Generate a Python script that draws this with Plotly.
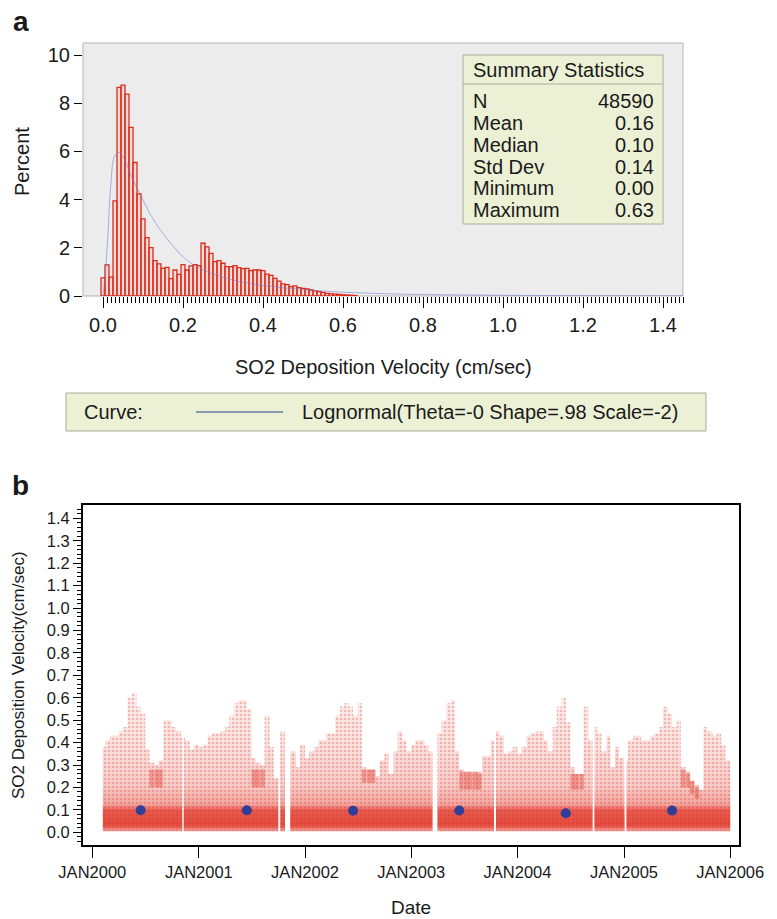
import plotly.graph_objects as go
import pandas as pd

W, H = 777, 919
FONT = "Liberation Sans, Arial, sans-serif"
RED = "#dd2a1b"


def px(x):
    return x / W


def py(y):
    return 1 - y / H


# ---------------- Panel a data ----------------
bin_centers = [i / 100 for i in range(64)]
percent = [0.75, 1.29, 0.78, 3.95, 8.66, 8.75, 8.38, 7.00, 5.54, 4.24,
           3.20, 2.42, 2.01, 1.47, 1.33, 1.15, 1.19, 0.72, 1.08, 0.90,
           1.30, 1.08, 1.25, 1.30, 1.26, 2.19, 2.04, 1.77, 1.43, 1.47,
           1.36, 1.22, 1.22, 1.26, 1.18, 1.14, 1.15, 1.05, 1.08, 1.08,
           1.05, 0.91, 0.86, 0.73, 0.62, 0.50, 0.47, 0.39, 0.42, 0.35,
           0.32, 0.29, 0.25, 0.21, 0.18, 0.15, 0.11, 0.10, 0.08, 0.07,
           0.05, 0.04, 0.03, 0.02]
curve_x = [0.0, 0.007, 0.0125, 0.019, 0.029, 0.040, 0.054, 0.071, 0.092,
           0.117, 0.150, 0.200, 0.242, 0.325, 0.408, 0.492, 0.575, 0.742,
           1.0, 1.2, 1.45]
curve_y = [0.0, 1.2, 2.6, 4.5, 5.8, 5.96, 5.65, 4.96, 4.27, 3.43, 2.6, 1.63,
           1.15, 0.66, 0.42, 0.28, 0.18, 0.08, 0.03, 0.015, 0.01]
xa_tickvals = [0.0, 0.2, 0.4, 0.6, 0.8, 1.0, 1.2, 1.4]
xa_ticktext = ["0.0", "0.2", "0.4", "0.6", "0.8", "1.0", "1.2", "1.4"]
xa_minor = [i / 100 for i in range(0, 146)]
ya_tickvals = [0, 2, 4, 6, 8, 10]
stat_labels = ["N", "Mean", "Median", "Std Dev", "Minimum", "Maximum"]
stat_values = ["48590", "0.16", "0.10", "0.14", "0.00", "0.63"]
curve_label = "Lognormal(Theta=-0 Shape=.98 Scale=-2)"

# ---------------- Panel b data ----------------
# upper envelope of the point cloud, one value per half month (Jan 2000 .. Dec 2005)
half_month_top = [
    None, None, 0.38, 0.41, 0.43, 0.43, 0.45, 0.47, 0.60, 0.62, 0.56, 0.53,
    0.37, 0.31, 0.30, 0.32, 0.50, 0.50, 0.47, 0.45, 0.42, 0.41, 0.37, 0.39,
    0.38, 0.39, 0.43, 0.44, 0.44, 0.45, 0.47, 0.52, 0.575, 0.59, 0.59, 0.55,
    0.33, 0.31, 0.30, 0.52, 0.38, 0.24, 0.45, 0.45, 0.36, 0.36, 0.29, 0.39,
    0.33, 0.36, 0.38, 0.41, 0.41, 0.44, 0.44, 0.52, 0.56, 0.575, 0.56, 0.52,
    0.575, 0.29, 0.28, 0.28, 0.25, 0.32, 0.35, 0.26, 0.36, 0.45, 0.41, 0.36,
    0.39, 0.41, 0.41, 0.39, 0.36, None, 0.44, 0.50, 0.575, 0.59, 0.36, 0.28,
    0.27, 0.27, 0.27, 0.26, 0.34, 0.34, 0.41, 0.45, 0.43, 0.35, 0.36, 0.38,
    0.35, 0.38, 0.43, 0.44, 0.45, 0.45, 0.41, 0.36, 0.47, 0.56, 0.60, 0.49,
    0.29, 0.26, 0.26, 0.56, 0.41, 0.47, 0.44, 0.36, 0.43, 0.29, 0.38, 0.33,
    0.32, 0.41, 0.43, 0.43, 0.41, 0.41, 0.43, 0.44, 0.47, 0.56, 0.53, 0.47,
    0.50, 0.29, 0.26, 0.23, 0.20, 0.19, 0.47, 0.45, 0.43, 0.44, 0.39, 0.32,
]
missing_periods = [
    ("2000-01-01", "2000-02-06"),
    ("2000-11-05", "2000-11-10"),
    ("2001-10-01", "2001-10-08"),
    ("2001-10-24", "2001-11-11"),
    ("2003-03-15", "2003-03-30"),
    ("2003-10-12", "2003-10-19"),
    ("2004-09-15", "2004-09-21"),
    ("2005-01-03", "2005-01-09"),
]
cluster_starts = ["2000-07-15", "2000-08-01", "2000-08-15",
                  "2001-07-01", "2001-07-15", "2001-08-01",
                  "2002-07-15", "2002-08-01", "2002-08-15",
                  "2003-06-15", "2003-07-01", "2003-07-15", "2003-08-01", "2003-08-15",
                  "2004-07-01", "2004-07-15", "2004-08-01",
                  "2005-07-15", "2005-08-01", "2005-08-15", "2005-09-01"]
cluster_low = [0.20, 0.20, 0.20, 0.20, 0.20, 0.20, 0.22, 0.22, 0.22, 0.19, 0.19,
               0.19, 0.19, 0.19, 0.19, 0.19, 0.19, 0.20, 0.20, 0.17, 0.15]
cluster_high = [0.28, 0.28, 0.28, 0.28, 0.28, 0.28, 0.28, 0.28, 0.28, 0.27, 0.27,
                0.27, 0.27, 0.27, 0.26, 0.26, 0.26, 0.28, 0.27, 0.23, 0.21]
annual_dates = ["2000-06-15", "2001-06-15", "2002-06-15", "2003-06-15",
                "2004-06-15", "2005-06-15"]
annual_values = [0.098, 0.098, 0.096, 0.097, 0.085, 0.097]
year_tickvals = ["2000-01-01", "2001-01-01", "2002-01-01", "2003-01-01",
                 "2004-01-01", "2005-01-01", "2006-01-01"]
year_ticktext = ["JAN2000", "JAN2001", "JAN2002", "JAN2003", "JAN2004",
                 "JAN2005", "JAN2006"]
yb_tickvals = [i / 10 for i in range(15)]
yb_ticktext = ["%.1f" % v for v in yb_tickvals]

# ---------------- build cloud polygons ----------------
edges = pd.date_range("2000-01-01", periods=len(half_month_top) + 1, freq="SMS")
segs = []
for k, top in enumerate(half_month_top):
    if top is not None:
        segs.append([edges[k], edges[k + 1], top])
for gs, ge in missing_periods:
    gs, ge = pd.Timestamp(gs), pd.Timestamp(ge)
    new = []
    for s, e, t in segs:
        if e <= gs or s >= ge:
            new.append([s, e, t])
            continue
        if s < gs:
            new.append([s, gs, t])
        if e > ge:
            new.append([ge, e, t])
    segs = new
segs.sort(key=lambda v: v[0])
polys, cur = [], []
for seg in segs:
    if cur and seg[0] != cur[-1][1]:
        polys.append(cur)
        cur = []
    cur.append(seg)
if cur:
    polys.append(cur)
BASE = 0.005
cx, cy = [], []
for poly in polys:
    cx.append(poly[0][0]); cy.append(BASE)
    for s, e, t in poly:
        cx += [s, e]; cy += [t, t]
    cx.append(poly[-1][1]); cy.append(BASE)
    cx.append(None); cy.append(None)

fig = go.Figure()

# Panel a
fig.add_trace(go.Bar(x=bin_centers, y=percent, width=0.01,
                     marker=dict(color="rgba(255,170,160,0.25)",
                                 line=dict(color=RED, width=1.3)),
                     xaxis="x", yaxis="y", showlegend=False))
fig.add_trace(go.Scatter(x=curve_x, y=curve_y, mode="lines",
                         line=dict(color="rgba(110,120,200,0.55)", width=1, shape="spline"),
                         xaxis="x", yaxis="y", showlegend=False))

# Panel b : point cloud drawn as its density envelope
fig.add_trace(go.Scatter(
    x=cx, y=cy, mode="lines", fill="toself", line=dict(width=0),
    fillgradient=dict(type="vertical", start=0.0, stop=0.62,
                      colorscale=[[0.0, "rgba(222,45,30,0.35)"],
                                  [0.05, "rgba(222,45,30,0.85)"],
                                  [0.16, "rgba(222,45,30,0.78)"],
                                  [0.20, "rgba(222,45,30,0.42)"],
                                  [0.33, "rgba(222,45,30,0.24)"],
                                  [0.6, "rgba(222,45,30,0.14)"],
                                  [1.0, "rgba(222,45,30,0.08)"]]),
    xaxis="x2", yaxis="y2", showlegend=False, hoverinfo="skip"))
fig.add_trace(go.Scatter(
    x=cx, y=cy, mode="lines", fill="toself", line=dict(width=0),
    fillcolor="rgba(0,0,0,0)",
    fillpattern=dict(shape=".", fgcolor="rgba(222,45,30,0.55)", bgcolor="rgba(0,0,0,0)",
                     size=4, solidity=0.35),
    xaxis="x2", yaxis="y2", showlegend=False, hoverinfo="skip"))
cl_centers = [pd.Timestamp(d) + pd.Timedelta(days=7.5) for d in cluster_starts]
fig.add_trace(go.Bar(x=cl_centers, y=[h - l for h, l in zip(cluster_high, cluster_low)],
                     base=cluster_low, width=15 * 86400000,
                     marker=dict(color="rgba(215,40,30,0.35)", line=dict(width=0)),
                     xaxis="x2", yaxis="y2", showlegend=False))
fig.add_trace(go.Scatter(x=annual_dates, y=annual_values, mode="markers",
                         marker=dict(size=10, color="#2f3f99"),
                         xaxis="x2", yaxis="y2", showlegend=False))

tick_font_a = dict(family=FONT, size=20, color="#1a1a1a")
tick_font_b = dict(family=FONT, size=16.5, color="#1a1a1a")

fig.update_layout(
    width=W, height=H, margin=dict(l=0, r=0, t=0, b=0, autoexpand=False),
    paper_bgcolor="white", plot_bgcolor="rgba(0,0,0,0)",
    font=dict(family=FONT, color="#1a1a1a"),
    barmode="overlay",
    xaxis=dict(domain=[px(83), px(683)], range=[-0.05, 1.45], anchor="y",
               automargin=False,
               tickvals=xa_tickvals, ticktext=xa_ticktext, ticks="outside",
               ticklen=11, tickwidth=1, tickcolor="black",
               minor=dict(tickvals=xa_minor, ticks="outside", ticklen=6,
                          tickwidth=1, tickcolor="black"),
               showgrid=False, zeroline=False, showline=False, tickfont=tick_font_a),
    yaxis=dict(domain=[py(296), py(43)], range=[0, 10.5], anchor="x",
               automargin=False,
               tickvals=ya_tickvals, ticks="outside", ticklen=8, tickwidth=1,
               tickcolor="black", showgrid=False, zeroline=False, showline=False,
               tickfont=tick_font_a),
    xaxis2=dict(domain=[px(83), px(739)], type="date",
                range=["1999-11-30", "2006-01-31"], anchor="y2", automargin=False,
                tickvals=year_tickvals, ticktext=year_ticktext, ticks="outside",
                ticklen=11, tickwidth=1, tickcolor="black", showgrid=False,
                zeroline=False, showline=True, linecolor="black", linewidth=2,
                mirror=True, tickfont=tick_font_b),
    yaxis2=dict(domain=[py(845), py(505)], range=[-0.0566, 1.4593], anchor="x2",
                automargin=False,
                tickvals=yb_tickvals, ticktext=yb_ticktext, ticks="outside",
                ticklen=8, tickwidth=1, tickcolor="black",
                minor=dict(dtick=0.02, tick0=0, ticks="outside", ticklen=4,
                           tickwidth=1, tickcolor="black"),
                showgrid=False, zeroline=False, showline=True, linecolor="black",
                linewidth=2, mirror=True, tickfont=tick_font_b),
)

shapes = [
    dict(type="rect", xref="x domain", yref="y domain", x0=0, x1=1, y0=0, y1=1,
         fillcolor="#ececec", line=dict(color="#b3b3b3", width=1), layer="below"),
    # summary statistics box
    dict(type="rect", xref="paper", yref="paper", x0=px(463), x1=px(663),
         y0=py(224), y1=py(55), fillcolor="#ecf1d6",
         line=dict(color="#a9ae98", width=1), layer="above"),
    dict(type="line", xref="paper", yref="paper", x0=px(463), x1=px(663),
         y0=py(84), y1=py(84), line=dict(color="#a9ae98", width=1)),
    # curve legend box
    dict(type="rect", xref="paper", yref="paper", x0=px(66), x1=px(706),
         y0=py(431), y1=py(393), fillcolor="#ecf1d6",
         line=dict(color="#a9ae98", width=1)),
    dict(type="line", xref="paper", yref="paper", x0=px(196), x1=px(283),
         y0=py(412), y1=py(412), line=dict(color="#2a3d8f", width=1)),
]

ann = []


def txt(text, x, y, size, xanchor="center", yanchor="middle", bold=False, angle=0):
    ann.append(dict(text=("<b>%s</b>" % text) if bold else text, x=px(x), y=py(y),
                    xref="paper", yref="paper", showarrow=False, xanchor=xanchor,
                    yanchor=yanchor, textangle=angle,
                    font=dict(family=FONT, size=size, color="#1a1a1a")))


txt("a", 11, 21, 28, xanchor="left", bold=True)
txt("b", 10, 485, 28, xanchor="left", bold=True)
txt("Percent", 22, 162, 20, angle=-90)
txt("SO2 Deposition Velocity (cm/sec)", 383, 367, 20)
txt("Summary Statistics", 471, 70, 20, xanchor="left")
row_y = [101, 123, 145, 166.5, 188, 210]
for lab, val, yy in zip(stat_labels, stat_values, row_y):
    txt(lab, 471, yy, 20, xanchor="left")
    txt(val, 656, yy, 20, xanchor="right")
txt("Curve:", 82, 412, 20, xanchor="left")
txt(curve_label, 300, 412, 20, xanchor="left")
txt("SO2 Deposition Velocity(cm/sec)", 18, 675, 17, angle=-90)
txt("Date", 411, 907, 19)

fig.update_layout(shapes=shapes, annotations=ann)
fig.write_html("out.html")
